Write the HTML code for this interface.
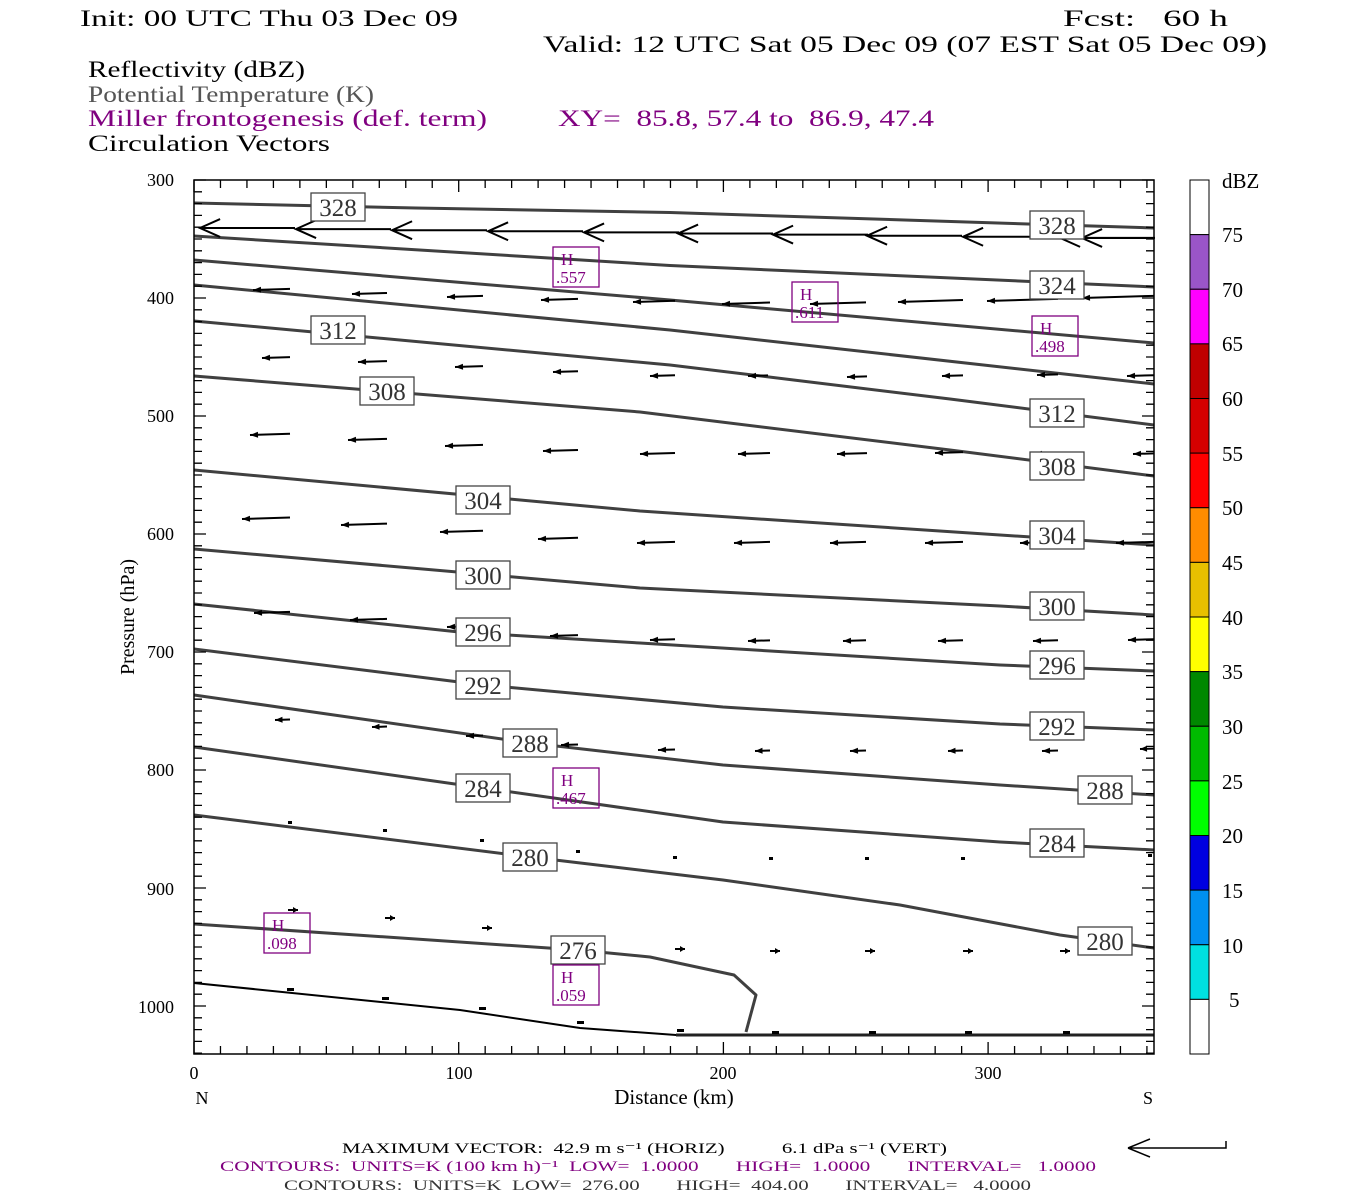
<!DOCTYPE html>
<html><head><meta charset="utf-8"><style>
html,body{margin:0;padding:0;background:#fff;}
svg{display:block;}
text{font-family:"Liberation Serif",serif;}
</style></head><body>
<svg id="s" width="1350" height="1200" viewBox="0 0 1350 1200" xmlns="http://www.w3.org/2000/svg">
<rect width="1350" height="1200" fill="#fff"/>
<g font-size="23" fill="#000">
<text x="80" y="26" textLength="378" lengthAdjust="spacingAndGlyphs">Init: 00 UTC Thu 03 Dec 09</text>
<text x="1063" y="26" textLength="165" lengthAdjust="spacingAndGlyphs" xml:space="preserve">Fcst:   60 h</text>
<text x="543" y="52" textLength="724" lengthAdjust="spacingAndGlyphs">Valid: 12 UTC Sat 05 Dec 09 (07 EST Sat 05 Dec 09)</text>
<text x="88" y="77" textLength="217" lengthAdjust="spacingAndGlyphs">Reflectivity (dBZ)</text>
<text x="88" y="102" textLength="286" lengthAdjust="spacingAndGlyphs" fill="#555">Potential Temperature (K)</text>
<text x="88" y="126" textLength="399" lengthAdjust="spacingAndGlyphs" fill="#800080">Miller frontogenesis (def. term)</text>
<text x="558" y="126" textLength="376" lengthAdjust="spacingAndGlyphs" fill="#800080" xml:space="preserve">XY=  85.8, 57.4 to  86.9, 47.4</text>
<text x="88" y="151" textLength="242" lengthAdjust="spacingAndGlyphs">Circulation Vectors</text>
</g>
<g id="plot"></g>
<g font-size="18" fill="#000" text-anchor="end">
<text x="174" y="186">300</text><text x="174" y="304">400</text><text x="174" y="422">500</text>
<text x="174" y="540">600</text><text x="174" y="658">700</text><text x="174" y="776">800</text>
<text x="174" y="895">900</text><text x="174" y="1013">1000</text>
</g>
<g font-size="18" fill="#000" text-anchor="middle">
<text x="194" y="1079">0</text><text x="459" y="1079">100</text><text x="723" y="1079">200</text><text x="988" y="1079">300</text>
<text x="202" y="1104">N</text><text x="1148" y="1104">S</text>
<text x="674" y="1104" font-size="21">Distance (km)</text>
<text transform="translate(134,617) rotate(-90)" font-size="20">Pressure (hPa)</text>
</g>
<g id="cb"></g>
<g font-size="21" fill="#000">
<text x="1222" y="188">dBZ</text>
<text x="1222" y="242">75</text><text x="1222" y="297">70</text><text x="1222" y="351">65</text>
<text x="1222" y="406">60</text><text x="1222" y="461">55</text><text x="1222" y="515">50</text>
<text x="1222" y="570">45</text><text x="1222" y="625">40</text><text x="1222" y="679">35</text>
<text x="1222" y="734">30</text><text x="1222" y="789">25</text><text x="1222" y="843">20</text>
<text x="1222" y="898">15</text><text x="1222" y="953">10</text><text x="1229" y="1007">5</text>
</g>
<g font-size="15">
<text x="342" y="1153" textLength="605" lengthAdjust="spacingAndGlyphs" xml:space="preserve">MAXIMUM VECTOR:  42.9 m s⁻¹ (HORIZ)           6.1 dPa s⁻¹ (VERT)</text>
<text x="220" y="1171" fill="#800080" textLength="876" lengthAdjust="spacingAndGlyphs" xml:space="preserve">CONTOURS:  UNITS=K (100 km h)⁻¹  LOW=  1.0000       HIGH=  1.0000       INTERVAL=   1.0000</text>
<text x="284" y="1190" fill="#333" textLength="747" lengthAdjust="spacingAndGlyphs" xml:space="preserve">CONTOURS:  UNITS=K  LOW=  276.00       HIGH=  404.00       INTERVAL=   4.0000</text>
</g>
<g stroke="#000" stroke-width="1.5" fill="none">
<path d="M1128 1148 H1226 V1141 M1128 1148 L1150 1139 M1128 1148 L1150 1157"/>
</g>
</svg>
<script>
const P=document.getElementById("plot");
let h="";
const C=[
[[194,203],[416,208],[670,212.5],[1154,228]],
[[194,236],[670,265.5],[1154,287]],
[[194,260],[670,300],[1154,343]],
[[194,285],[670,330],[1154,384]],
[[194,321],[670,365],[950,399],[1154,425]],
[[194,376],[640,412],[950,450],[1154,476]],
[[194,470],[640,511],[1000,535],[1154,545]],
[[194,549],[640,588],[1000,606],[1154,615]],
[[194,604],[459,632],[640,643],[1000,665],[1154,671]],
[[194,649],[483,685],[723,707],[1000,724],[1154,730]],
[[194,695],[530,743],[723,765],[1000,785],[1154,795]],
[[194,747],[483,788],[723,822],[1000,842],[1154,850]],
[[194,815],[530,857],[723,880],[900,905],[1060,935],[1154,948]],
[[194,924],[578,950],[650,957],[734,975],[756,995],[746,1032]]
];
C.forEach(c=>{h+=`<polyline points="${c.map(p=>p.join(",")).join(" ")}" fill="none" stroke="#404040" stroke-width="3" stroke-linejoin="round"/>`;});
h+=`<polyline points="194,983 460,1010 580,1028 676,1035 1154,1035" fill="none" stroke="#000" stroke-width="2"/>`;
h+=`<line x1="676" y1="1035" x2="1154" y2="1035" stroke="#222" stroke-width="3"/>`;
function arr(x1,y1,x2,y2,big){
  const dx=x2-x1,dy=y2-y1,L=Math.hypot(dx,dy),ux=dx/L,uy=dy/L;
  if(big){
    const hl=22,a=0.42,c=Math.cos(a),s=Math.sin(a);
    const ax=x1+hl*(ux*c-uy*s),ay=y1+hl*(uy*c+ux*s);
    const bx=x1+hl*(ux*c+uy*s),by=y1+hl*(uy*c-ux*s);
    h+=`<path d="M${x2} ${y2}L${x1} ${y1}M${ax} ${ay}L${x1} ${y1}L${bx} ${by}" stroke="#000" stroke-width="2" fill="none"/>`;
  } else {
    const hl=Math.min(8,L*0.5),w=3,bx=x1+hl*ux,by=y1+hl*uy;
    h+=`<path d="M${x2} ${y2}L${x1} ${y1}" stroke="#000" stroke-width="2"/>`;
    h+=`<path d="M${x1} ${y1}L${bx-uy*w} ${by+ux*w}L${bx+uy*w} ${by-ux*w}Z" fill="#000"/>`;
  }
}
[200,296,392,488,584,678,773,867,963,1060].forEach((x,i)=>{const y=228+i*1.1;arr(x,y,x+95,y,true);});
arr(1082,238,1154,238,true);
const rows=[
 [[253,290,290],[352,294,387],[447,297,483],[541,300,578],[633,302,675],[722,304,770],[810,304,866],[898,302,963],[987,301,1058],[1082,298,1154]],
 [[262,358,290],[358,362,387],[455,367,483],[553,372,578],[650,376,675],[748,376,768],[847,377,867],[942,376,963],[1037,375,1058],[1127,376,1154]],
 [[250,435,290],[348,440,387],[445,446,483],[543,451,578],[640,454,675],[738,454,770],[837,454,867],[935,453,963],[1034,454,1058],[1133,454,1154]],
 [[242,519,290],[341,525,387],[440,532,483],[538,539,578],[637,543,675],[734,543,770],[830,543,866],[925,543,963],[1020,543,1058],[1116,543,1154]],
 [[254,613,290],[350,620,387],[447,627,483],[550,636,578],[650,640,675],[748,641,770],[843,641,866],[938,641,963],[1033,641,1058],[1128,640,1154]],
 [[275,720,290],[372,727,387],[466,736,483],[561,745,578],[658,750,675],[755,751,770],[850,751,866],[948,751,963],[1042,751,1058],[1140,749,1154]]
];
rows.forEach(r=>r.forEach(a=>arr(a[0],a[1],a[2],a[1]-(a[2]-a[0])*0.03,false)));
[[290,822],[385,830],[482,840],[578,851],[675,857],[771,858],[867,858],[963,858],[1150,855]].forEach(p=>{h+=`<rect x="${p[0]-2}" y="${p[1]-1}" width="4" height="3" fill="#000"/>`;});
[[293,910],[390,918],[487,928],[583,940],[680,949],[775,951],[870,951],[968,951],[1065,951]].forEach(p=>{arr(p[0]+5,p[1],p[0]-5,p[1],false);});
[[290,989],[385,998],[482,1008],[580,1022],[680,1030],[775,1032],[872,1032],[968,1032],[1066,1032]].forEach(p=>{h+=`<rect x="${p[0]-3}" y="${p[1]-1}" width="7" height="3" fill="#000"/>`;});
const L=[[338,207,"328"],[338,330,"312"],[387,391,"308"],[483,500,"304"],[483,575,"300"],[483,632,"296"],[483,685,"292"],[530,743,"288"],[483,788,"284"],[530,857,"280"],[578,950,"276"],
[1057,225,"328"],[1057,285,"324"],[1057,413,"312"],[1057,466,"308"],[1057,535,"304"],[1057,606,"300"],[1057,665,"296"],[1057,726,"292"],[1105,790,"288"],[1057,843,"284"],[1105,941,"280"]];
L.forEach(l=>{h+=`<rect x="${l[0]-27}" y="${l[1]-14}" width="54" height="28" fill="#fff" stroke="#444" stroke-width="1.3"/><text x="${l[0]}" y="${l[1]+9}" font-size="25" fill="#333" text-anchor="middle">${l[2]}</text>`;});
const H=[[553,247,".557"],[792,282,".611"],[1032,316,".498"],[553,768,".467"],[264,913,".098"],[553,965,".059"]];
H.forEach(b=>{h+=`<rect x="${b[0]}" y="${b[1]}" width="46" height="40" fill="none" stroke="#800080" stroke-width="1.3"/><text x="${b[0]+8}" y="${b[1]+18}" font-size="17" fill="#800080">H</text><text x="${b[0]+3}" y="${b[1]+36}" font-size="17" fill="#800080">${b[2]}</text>`;});
h+=`<rect x="194" y="180" width="960" height="874" fill="none" stroke="#000" stroke-width="1.5"/>`;
let t="";
for(let k=0;k<=36;k++){const x=194+k*26.47;const len=(k%10==0)?12:8;t+=`M${x} 1054V${1054-len}M${x} 180V${180+len}`;}
for(let p=300;p<=1040;p+=10){const y=180+(p-300)*1.18;const len=(p%100==0)?12:8;t+=`M194 ${y}H${194+len}M1154 ${y}H${1154-len}`;}
h+=`<path d="${t}" stroke="#000" stroke-width="1.3" fill="none"/>`;
P.innerHTML=h;
const cols=["#fff","#9a55c8","#ff00ff","#c00000","#d50000","#ff0000","#ff8c00","#e8c000","#ffff00","#008800","#00bb00","#00ff00","#0000e0","#0090f0","#00e0e0","#fff"];
let cb="";const seg=874/16;
cols.forEach((c,i)=>{cb+=`<rect x="1190" y="${180+i*seg}" width="19" height="${seg}" fill="${c}" stroke="#000" stroke-width="1"/>`;});
document.getElementById("cb").innerHTML=cb;
</script>
</body></html>
